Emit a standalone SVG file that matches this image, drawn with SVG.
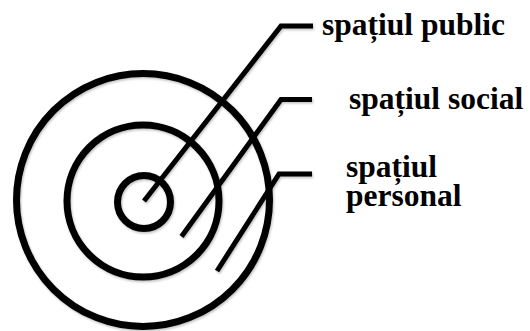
<svg xmlns="http://www.w3.org/2000/svg" width="530" height="331" viewBox="0 0 530 331">
<style>
.ring{fill:none;stroke:#000;stroke-width:7}
.lead{fill:none;stroke:#000;stroke-width:5;stroke-linejoin:miter}
.lbl{font-family:"Liberation Serif","Times New Roman",serif;font-weight:bold;font-size:31.5px;fill:#000}
</style>
<defs>
<filter id="sh" x="-10%" y="-10%" width="120%" height="120%">
<feDropShadow dx="1" dy="1.5" stdDeviation="1" flood-color="#000" flood-opacity="0.25"/>
</filter>
</defs>
<rect width="530" height="331" fill="#fff"/>
<g filter="url(#sh)">
<g id="outer"><circle class="ring" cx="143" cy="200" r="126.5"/></g>
<g id="middle"><circle class="ring" cx="143" cy="201" r="76"/></g>
<g id="inner"><circle class="ring" cx="144" cy="202" r="26.5"/></g>
<g id="connectors">
<polyline class="lead" points="144,201 281,26 313,26"/>
<polyline class="lead" points="181.5,236.5 281,99.5 312,99.5"/>
<polyline class="lead" points="217,271 279,174 312,174"/>
</g>
</g>
<g id="public"><text class="lbl" x="322" y="35">spațiul public</text></g>
<g id="social"><text class="lbl" x="349" y="109">spațiul social</text></g>
<g id="personal"><text class="lbl" x="346" y="177">spațiul</text><text class="lbl" x="346" y="206">personal</text></g>
</svg>
